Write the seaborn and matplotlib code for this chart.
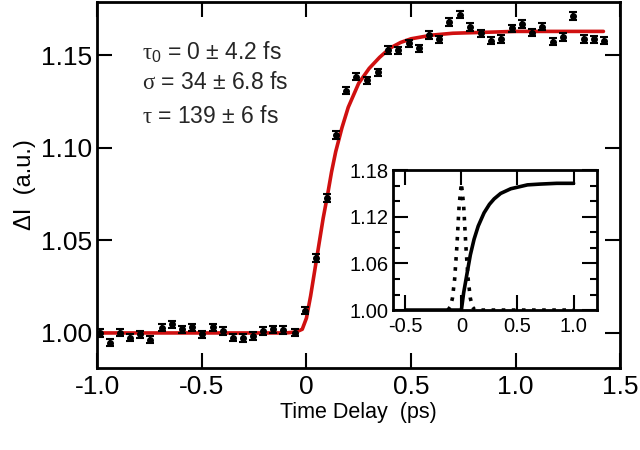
import numpy as np
import matplotlib
matplotlib.use("Agg")
import matplotlib.pyplot as plt
import seaborn as sns

# measured points (ps, a.u.)
t_data = [-0.986, -0.938, -0.890, -0.843, -0.795, -0.748, -0.692, -0.644, -0.597, -0.549,
          -0.501, -0.446, -0.398, -0.351, -0.303, -0.256, -0.208, -0.160, -0.113, -0.057,
          -0.005, 0.046, 0.099, 0.141, 0.189, 0.237, 0.290, 0.340, 0.392, 0.440,
          0.490, 0.538, 0.586, 0.633, 0.684, 0.733, 0.784, 0.835, 0.882, 0.931,
          0.982, 1.030, 1.078, 1.125, 1.178, 1.225, 1.276, 1.327, 1.374, 1.422]
y_data = [1.0000, 0.9948, 1.0002, 0.9975, 0.9993, 0.9964, 1.0029, 1.0047, 1.0020, 1.0030,
          0.9993, 1.0030, 1.0010, 0.9975, 0.9972, 0.9984, 1.0010, 1.0020, 1.0016, 1.0002,
          1.0120, 1.0405, 1.0730, 1.1070, 1.1310, 1.1386, 1.1365, 1.1408, 1.1530, 1.1528,
          1.1566, 1.1538, 1.1610, 1.1587, 1.1680, 1.1720, 1.1653, 1.1620, 1.1580, 1.1590,
          1.1646, 1.1670, 1.1624, 1.1656, 1.1575, 1.1600, 1.1714, 1.1590, 1.1587, 1.1580]
y_err = [0.002] * len(t_data)

# fit curve
fit_t = [-1.0, -0.5, -0.1, -0.05, -0.02, 0.0, 0.02, 0.04, 0.06, 0.08, 0.10, 0.12, 0.14,
         0.17, 0.20, 0.25, 0.30, 0.35, 0.40, 0.45, 0.50, 0.60, 0.70, 0.85, 1.0, 1.2, 1.42]
fit_y = [1.000, 1.000, 1.000, 1.0005, 1.002, 1.008, 1.020, 1.034, 1.048, 1.062, 1.074, 1.087,
         1.098, 1.111, 1.122, 1.135, 1.143, 1.149, 1.154, 1.157, 1.159, 1.161, 1.162, 1.1625,
         1.163, 1.163, 1.163]

# inset: exponential rise and gaussian pulse
rise_t = [-0.5, 0.0, 0.02, 0.054, 0.08, 0.113, 0.15, 0.202, 0.25, 0.292, 0.35, 0.44, 0.5,
          0.589, 0.7, 0.85, 1.0]
rise_y = [1.000, 1.000, 1.022, 1.050, 1.071, 1.091, 1.108, 1.125, 1.136, 1.143, 1.150,
          1.156, 1.158, 1.161, 1.162, 1.163, 1.163]
pulse_t = [-0.12, -0.10, -0.08, -0.06, -0.04, -0.02, 0.0, 0.02, 0.04, 0.06, 0.08, 0.10,
           0.12, 0.3, 0.6, 1.0]
pulse_y = [1.000, 1.004, 1.015, 1.040, 1.082, 1.135, 1.163, 1.135, 1.082, 1.040, 1.015,
           1.004, 1.000, 1.000, 1.000, 1.000]

sns.set_style("ticks")
plt.rcParams["font.family"] = ["Liberation Sans", "DejaVu Sans"]
# greek letters in serif like the original, digits in sans
plt.rcParams["mathtext.fontset"] = "custom"
plt.rcParams["mathtext.rm"] = "Liberation Sans"
plt.rcParams["mathtext.it"] = "Liberation Serif"

red = "#d01010"

fig = plt.figure(figsize=(6.4, 4.5), dpi=100)
ax = fig.add_axes([0.152, 0.182, 0.817, 0.814])

sns.lineplot(x=fit_t, y=fit_y, ax=ax, color=red, lw=2.6, estimator=None, sort=False, zorder=2)
ax.errorbar(t_data, y_data, yerr=y_err, fmt="o", ms=4, color="black", ecolor="black",
            elinewidth=1.5, capsize=3, capthick=1.5, zorder=3)

ax.set_xlim(-1.0, 1.5)
ax.set_ylim(0.981, 1.179)
ax.set_xticks([-1.0, -0.5, 0, 0.5, 1.0, 1.5])
ax.set_xticklabels(["-1.0", "-0.5", "0", "0.5", "1.0", "1.5"])
ax.set_yticks([1.00, 1.05, 1.10, 1.15])
ax.set_yticklabels(["1.00", "1.05", "1.10", "1.15"])
ax.tick_params(direction="in", length=11, width=1.5, top=True, right=True,
               labelsize=19, color="black", labelcolor="black")
ax.tick_params(axis="x", pad=5)
ax.tick_params(axis="y", pad=4)
for sp in ax.spines.values():
    sp.set_linewidth(2.0)
    sp.set_color("black")
ax.set_xlabel("Time Delay  (ps)", fontsize=15.5, labelpad=2, color="black")
ax.set_ylabel("ΔI  (a.u.)", fontsize=17, labelpad=3, color="black")

ax.text(0.086, 0.863, r"$\tau_0$ = 0 ± 4.2 fs", transform=ax.transAxes, fontsize=16.5, va="center")
ax.text(0.086, 0.779, r"$\sigma$ = 34 ± 6.8 fs", transform=ax.transAxes, fontsize=16.5, va="center")
ax.text(0.086, 0.686, r"$\tau$ = 139 ± 6 fs", transform=ax.transAxes, fontsize=16.5, va="center")

# inset
ins = fig.add_axes([0.614, 0.311, 0.319, 0.311])
sns.lineplot(x=pulse_t, y=pulse_y, ax=ins, color="black", lw=2.6, linestyle=(0, (1, 1.8)),
             estimator=None, sort=False)
sns.lineplot(x=rise_t, y=rise_y, ax=ins, color="black", lw=2.6, estimator=None, sort=False)
ins.set_xlim(-0.61, 1.21)
ins.set_ylim(1.00, 1.18)
ins.set_xticks([-0.5, 0, 0.5, 1.0])
ins.set_xticklabels(["-0.5", "0", "0.5", "1.0"])
ins.set_yticks([1.00, 1.06, 1.12, 1.18])
ins.set_yticklabels(["1.00", "1.06", "1.12", "1.18"])
ins.set_yticks([1.02, 1.04, 1.08, 1.10, 1.14, 1.16], minor=True)
ins.tick_params(which="major", direction="in", length=11, width=1.5, top=True, right=True,
                labelsize=14.5, color="black", labelcolor="black")
ins.tick_params(which="minor", axis="y", direction="in", length=5, width=1.5, left=True,
                right=True, color="black")
ins.tick_params(axis="x", pad=5)
ins.tick_params(axis="y", pad=3)
for sp in ins.spines.values():
    sp.set_linewidth(2.0)
    sp.set_color("black")
ins.set_xlabel("")
ins.set_ylabel("")

fig.savefig("out.png", dpi=100)
